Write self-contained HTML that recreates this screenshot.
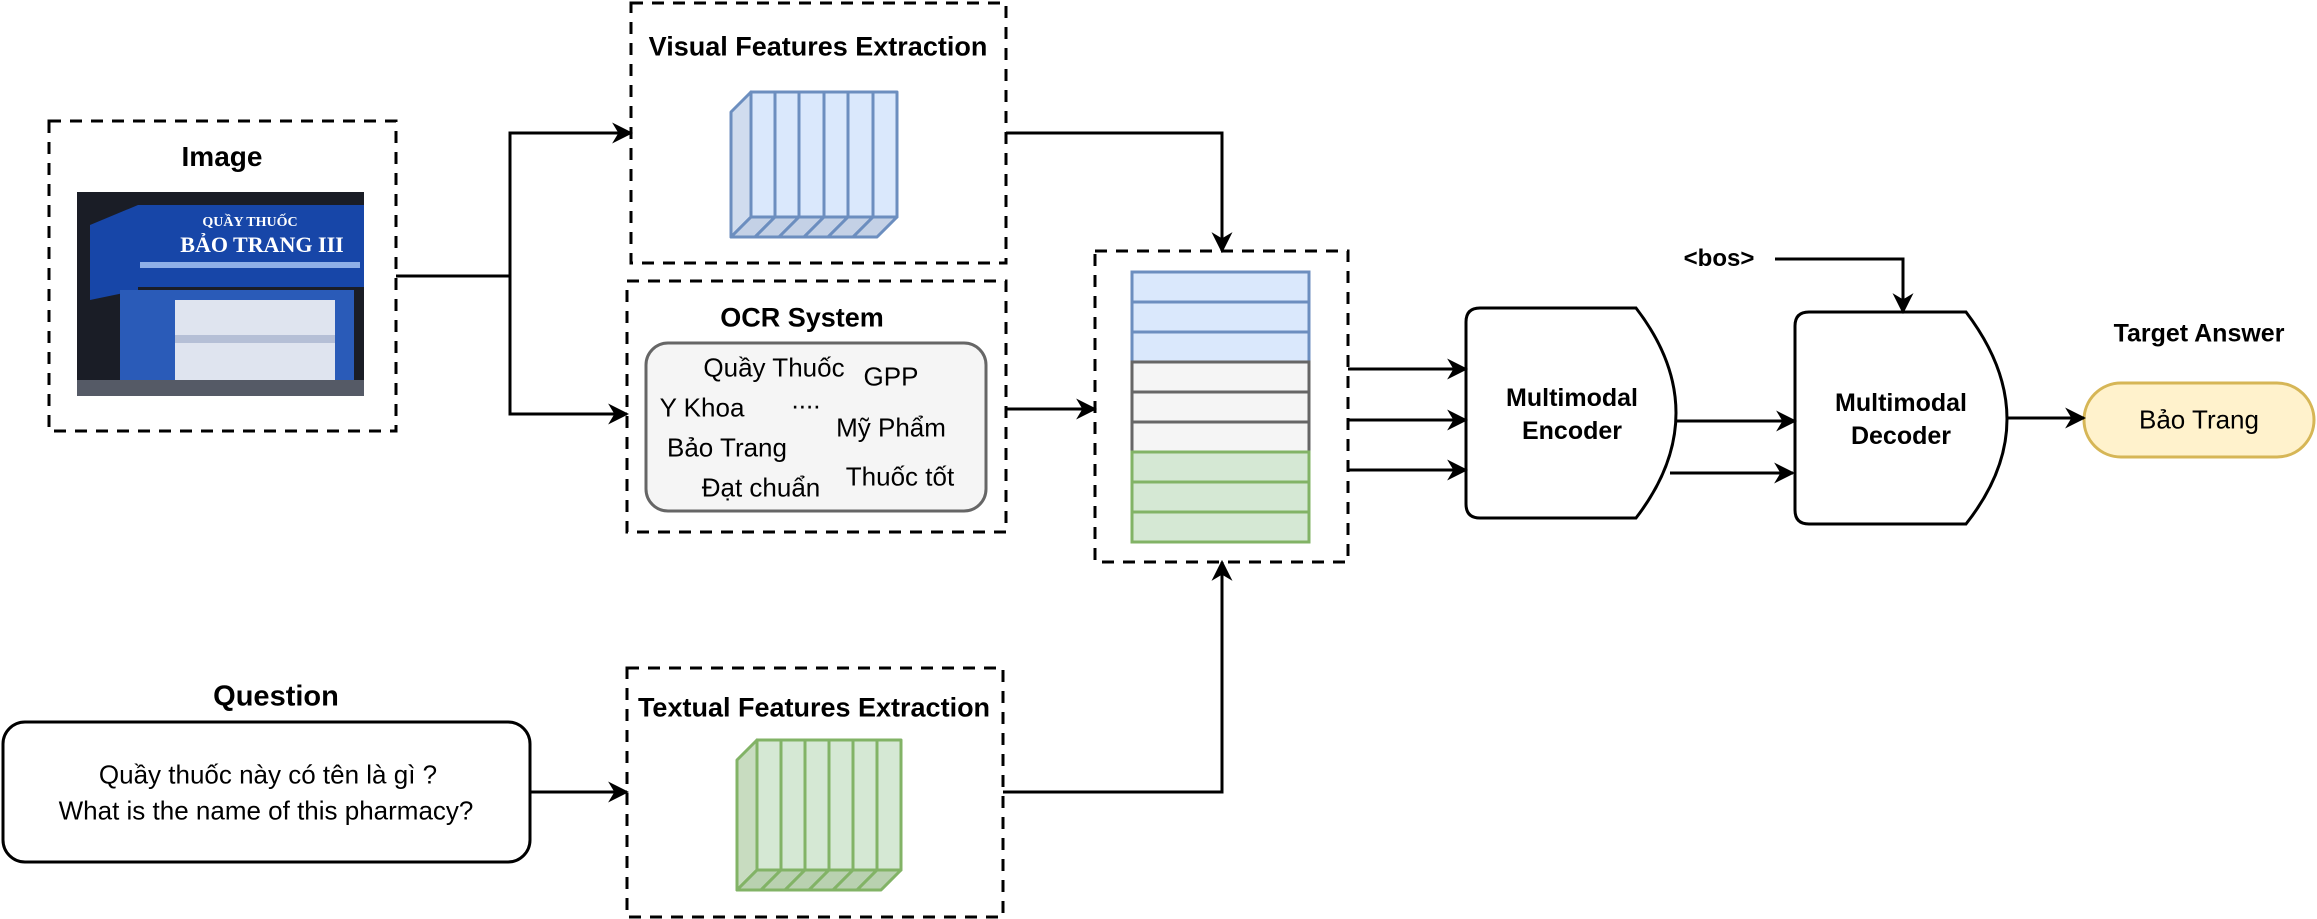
<!DOCTYPE html>
<html><head><meta charset="utf-8"><style>
body{margin:0;width:2317px;height:919px;background:#fff;position:relative;overflow:hidden;font-family:"Liberation Sans","Noto Sans CJK SC",sans-serif;}
.t{position:absolute;transform:translate(-50%,-50%);white-space:nowrap;color:#000;}
.b{font-weight:bold;}
</style></head><body>
<svg width="2317" height="919" style="position:absolute;left:0;top:0">
<defs>
<marker id="a" viewBox="0 0 10 10" refX="9" refY="5" markerWidth="7" markerHeight="7" orient="auto" markerUnits="strokeWidth"><path d="M0,0 L10,5 L0,10 L3,5 z" fill="#000"/></marker>
</defs>
<g fill="none" stroke="#000" stroke-width="3" stroke-dasharray="12,9">
<rect x="49" y="121" width="347" height="310"/>
<rect x="631" y="3" width="375" height="260"/>
<rect x="627" y="281" width="379" height="251"/>
<rect x="627" y="668" width="376" height="249"/>
<rect x="1095" y="251" width="253" height="311"/>
</g>
<!-- photo -->
<rect x="77" y="192" width="287" height="204" fill="#1a1d26"/>
<polygon points="90,225 138,205 138,290 90,300" fill="#1746a8"/>
<rect x="138" y="205" width="226" height="82" fill="#1746a8"/>
<rect x="120" y="290" width="234" height="100" fill="#2a5bb8"/>
<rect x="175" y="300" width="160" height="80" fill="#dfe4ef"/>
<rect x="175" y="335" width="160" height="8" fill="#b5bfd6"/>
<rect x="77" y="380" width="287" height="16" fill="#555a66"/>
<text x="250" y="226" fill="#fff" font-size="14" font-weight="bold" text-anchor="middle" font-family="Liberation Serif">QUẦY THUỐC</text>
<text x="262" y="252" fill="#fff" font-size="22" font-weight="bold" text-anchor="middle" font-family="Liberation Serif">BẢO TRANG III</text>
<rect x="140" y="262" width="220" height="6" fill="#8fb0e8"/>
<!-- blue cuboid -->
<g stroke="#6c8ebf" stroke-width="3" stroke-linejoin="round">
<polygon points="731,112 751,92 751,217 731,237" fill="#d0dcee"/>
<g fill="#dae8fc">
<rect x="751" y="92" width="24" height="125"/><rect x="775" y="92" width="24" height="125"/><rect x="799" y="92" width="25" height="125"/><rect x="824" y="92" width="24" height="125"/><rect x="848" y="92" width="25" height="125"/><rect x="873" y="92" width="24" height="125"/>
</g>
<g fill="#c4d1e6">
<polygon points="751,217 775,217 755,237 731,237"/><polygon points="775,217 799,217 779,237 755,237"/><polygon points="799,217 824,217 804,237 779,237"/><polygon points="824,217 848,217 828,237 804,237"/><polygon points="848,217 873,217 853,237 828,237"/><polygon points="873,217 897,217 877,237 853,237"/>
</g>
</g>
<!-- green cuboid -->
<g stroke="#82b366" stroke-width="3" stroke-linejoin="round">
<polygon points="737,760 757,740 757,870 737,890" fill="#c8dcc0"/>
<g fill="#d5e8d4">
<rect x="757" y="740" width="24" height="130"/><rect x="781" y="740" width="24" height="130"/><rect x="805" y="740" width="24" height="130"/><rect x="829" y="740" width="24" height="130"/><rect x="853" y="740" width="24" height="130"/><rect x="877" y="740" width="24" height="130"/>
</g>
<g fill="#b9d1b0">
<polygon points="757,870 781,870 761,890 737,890"/><polygon points="781,870 805,870 785,890 761,890"/><polygon points="805,870 829,870 809,890 785,890"/><polygon points="829,870 853,870 833,890 809,890"/><polygon points="853,870 877,870 857,890 833,890"/><polygon points="877,870 901,870 881,890 857,890"/>
</g>
</g>
<rect x="646" y="343" width="340" height="168" rx="22" fill="#f5f5f5" stroke="#666" stroke-width="3"/>
<rect x="3" y="722" width="527" height="140" rx="22" fill="#fff" stroke="#000" stroke-width="3"/>
<g stroke-width="3">
<rect x="1132" y="272" width="177" height="30" fill="#dae8fc" stroke="#6c8ebf"/>
<rect x="1132" y="302" width="177" height="30" fill="#dae8fc" stroke="#6c8ebf"/>
<rect x="1132" y="332" width="177" height="30" fill="#dae8fc" stroke="#6c8ebf"/>
<rect x="1132" y="362" width="177" height="30" fill="#f5f5f5" stroke="#666"/>
<rect x="1132" y="392" width="177" height="30" fill="#f5f5f5" stroke="#666"/>
<rect x="1132" y="422" width="177" height="30" fill="#f5f5f5" stroke="#666"/>
<rect x="1132" y="452" width="177" height="30" fill="#d5e8d4" stroke="#82b366"/>
<rect x="1132" y="482" width="177" height="30" fill="#d5e8d4" stroke="#82b366"/>
<rect x="1132" y="512" width="177" height="30" fill="#d5e8d4" stroke="#82b366"/>
</g>
<path d="M1480,308 L1636,308 Q1676,360 1676,413 Q1676,466 1636,518 L1480,518 Q1466,518 1466,504 L1466,322 Q1466,308 1480,308 Z" fill="#fff" stroke="#000" stroke-width="3"/>
<path d="M1809,312 L1966,312 Q2007,366 2007,419 Q2007,472 1966,524 L1809,524 Q1795,524 1795,510 L1795,326 Q1795,312 1809,312 Z" fill="#fff" stroke="#000" stroke-width="3"/>
<rect x="2084" y="383" width="230" height="74" rx="37" fill="#fff2cc" stroke="#d6b656" stroke-width="3"/>
<g fill="none" stroke="#000" stroke-width="3" marker-end="url(#a)">
<polyline points="396,276 510,276 510,133 631,133"/>
<polyline points="510,276 510,414 627,414"/>
<polyline points="1006,133 1222,133 1222,251"/>
<polyline points="1006,409 1095,409"/>
<polyline points="1003,792 1222,792 1222,562"/>
<polyline points="530,792 627,792"/>
<polyline points="1348,369 1466,369"/>
<polyline points="1348,420 1466,420"/>
<polyline points="1348,470 1466,470"/>
<polyline points="1676,421 1795,421"/>
<polyline points="1670,473 1793,473"/>
<polyline points="1775,259 1903,259 1903,312"/>
<polyline points="2007,418 2084,418"/>
</g>
</svg>
<div class="t b" style="left:818px;top:47px;font-size:27px">Visual Features Extraction</div>
<div class="t b" style="left:222px;top:157px;font-size:28px">Image</div>
<div class="t b" style="left:802px;top:318px;font-size:27px">OCR System</div>
<div class="t b" style="left:814px;top:708px;font-size:27px">Textual Features Extraction</div>
<div class="t b" style="left:276px;top:697px;font-size:29px">Question</div>
<div class="t" style="left:774px;top:368px;font-size:26px">Quầy Thuốc</div>
<div class="t" style="left:891px;top:377px;font-size:26px">GPP</div>
<div class="t" style="left:702px;top:408px;font-size:26px">Y Khoa</div>
<div class="t" style="left:806px;top:400px;font-size:26px">....</div>
<div class="t" style="left:891px;top:428px;font-size:26px">Mỹ Phẩm</div>
<div class="t" style="left:727px;top:448px;font-size:26px">Bảo Trang</div>
<div class="t" style="left:900px;top:477px;font-size:26px">Thuốc tốt</div>
<div class="t" style="left:761px;top:488px;font-size:26px">Đạt chuẩn</div>
<div class="t" style="left:268px;top:775px;font-size:26px">Quầy thuốc này có tên là gì ?</div>
<div class="t" style="left:266px;top:811px;font-size:26px">What is the name of this pharmacy?</div>
<div class="t b" style="left:1572px;top:415px;font-size:25px;text-align:center;line-height:33px">Multimodal<br>Encoder</div>
<div class="t b" style="left:1901px;top:420px;font-size:25px;text-align:center;line-height:33px">Multimodal<br>Decoder</div>
<div class="t b" style="left:1719px;top:259px;font-size:24px">&lt;bos&gt;</div>
<div class="t b" style="left:2199px;top:334px;font-size:25px">Target Answer</div>
<div class="t" style="left:2199px;top:420px;font-size:26px">Bảo Trang</div>
</body></html>
